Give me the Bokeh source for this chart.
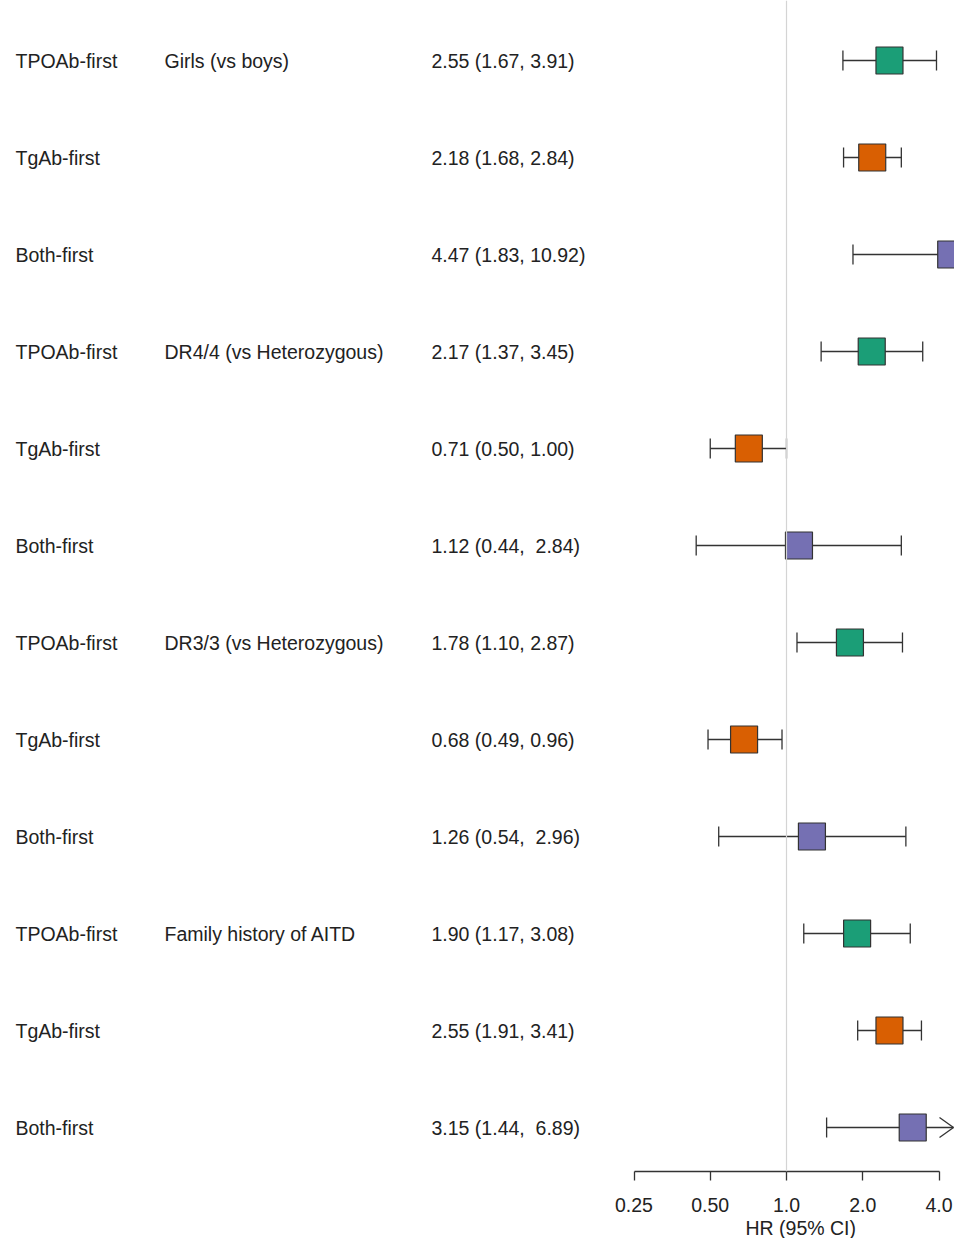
import math
from bokeh.plotting import figure
from bokeh.models import Range1d, FixedTicker, Span, ColumnDataSource, Title
from bokeh.core.properties import value
from bokeh.embed import file_html
from bokeh.resources import INLINE

# ---------------- data ----------------
groups = ["TPOAb-first", "TgAb-first", "Both-first"] * 4
covariates = ["Girls (vs boys)", "", "",
              "DR4/4 (vs Heterozygous)", "", "",
              "DR3/3 (vs Heterozygous)", "", "",
              "Family history of AITD", "", ""]
hr = [2.55, 2.18, 4.47, 2.17, 0.71, 1.12, 1.78, 0.68, 1.26, 1.90, 2.55, 3.15]
lo = [1.67, 1.68, 1.83, 1.37, 0.50, 0.44, 1.10, 0.49, 0.54, 1.17, 1.91, 1.44]
hi = [3.91, 2.84, 10.92, 3.45, 1.00, 2.84, 2.87, 0.96, 2.96, 3.08, 3.41, 6.89]
ci_labels = ["2.55 (1.67, 3.91)", "2.18 (1.68, 2.84)", "4.47 (1.83, 10.92)",
             "2.17 (1.37, 3.45)", "0.71 (0.50, 1.00)", "1.12 (0.44,  2.84)",
             "1.78 (1.10, 2.87)", "0.68 (0.49, 0.96)", "1.26 (0.54,  2.96)",
             "1.90 (1.17, 3.08)", "2.55 (1.91, 3.41)", "3.15 (1.44,  6.89)"]
group_colors = {"TPOAb-first": "#1B9E77", "TgAb-first": "#D95F02", "Both-first": "#7570B3"}
tick_values = [0.25, 0.5, 1.0, 2.0, 4.0]
tick_labels = ["0.25", "0.50", "1.0", "2.0", "4.0"]
x_title = "HR (95% CI)"

# ---------------- layout constants ----------------
FRAME_W, FRAME_H = 954, 1171
ROW_PX = 97.0
ROW0_PX = 60.0
PX_PER_DOUBLING = 76.25
X_ONE = 786.0            # frame px of HR = 1
def px_to_x(px):
    return 2 ** ((px - X_ONE) / PX_PER_DOUBLING)

x_start, x_end = px_to_x(0), px_to_x(FRAME_W)
clip = px_to_x(FRAME_W - 1)
col_group, col_cov, col_ci = px_to_x(15), px_to_x(164), px_to_x(431)
cap_h = 10 / ROW_PX
arrow_dx = 2 ** (14 / PX_PER_DOUBLING)
arrow_dy = 10 / ROW_PX

rows = list(range(len(hr)))
n = len(hr)
y_top = -ROW0_PX / ROW_PX
y_bottom = y_top + FRAME_H / ROW_PX

p = figure(frame_width=FRAME_W, frame_height=FRAME_H,
           x_axis_type="log", y_axis_location=None,
           x_range=Range1d(x_start, x_end),
           y_range=Range1d(start=y_bottom, end=y_top),
           output_backend="svg", toolbar_location=None,
           min_border=0, min_border_left=0, min_border_right=0,
           min_border_top=0, min_border_bottom=0)
p.outline_line_color = None
p.xgrid.visible = False
p.ygrid.visible = False
p.background_fill_color = "white"
p.border_fill_color = "white"

# reference line at HR = 1
p.add_layout(Span(location=1.0, dimension="height", line_color="#d4d4d4", line_width=1.2))

# text columns (non-breaking space keeps the double space of the original)
font = value("Liberation Sans")
ci_shown = [s.replace("  ", " \u00a0") for s in ci_labels]
src_txt = ColumnDataSource(dict(row=rows, grp=groups, cov=covariates, ci=ci_shown))
for xcol, fld in [(col_group, "grp"), (col_cov, "cov"), (col_ci, "ci")]:
    p.text(x=xcol, y="row", text=fld, source=src_txt, text_font=font,
           text_font_size="19.5px", text_color="#222222",
           text_baseline="middle", text_align="left")

# confidence intervals
hi_draw = [min(h, clip) for h in hi]
p.segment(x0=lo, y0=rows, x1=hi_draw, y1=rows, line_color="#333333", line_width=1.3)
# caps
p.segment(x0=lo, y0=[r - cap_h for r in rows], x1=lo, y1=[r + cap_h for r in rows],
          line_color="#333333", line_width=1.3)
cap_rows = [r for r, h in zip(rows, hi) if h <= clip]
cap_x = [h for h in hi if h <= clip]
p.segment(x0=cap_x, y0=[r - cap_h for r in cap_rows], x1=cap_x, y1=[r + cap_h for r in cap_rows],
          line_color="#333333", line_width=1.3)
# arrows for clipped intervals
arr_rows = [r for r, h in zip(rows, hi) if h > clip]
for sgn in (-1, 1):
    p.segment(x0=[clip / arrow_dx] * len(arr_rows), y0=[r + sgn * arrow_dy for r in arr_rows],
              x1=[clip] * len(arr_rows), y1=arr_rows, line_color="#333333", line_width=1.3)

# point estimates
p.scatter(x=hr, y=rows, marker="square", size=27,
          fill_color=[group_colors[g] for g in groups],
          line_color="#333333", line_width=1.2)

# x axis
ax = p.xaxis[0]
ax.ticker = FixedTicker(ticks=tick_values)
ax.major_label_overrides = {v: s for v, s in zip(tick_values, tick_labels)}
ax.bounds = (tick_values[0], tick_values[-1])
ax.minor_tick_line_color = None
ax.major_tick_in = 0
ax.major_tick_out = 9
ax.axis_line_color = "#333333"
ax.axis_line_width = 1.3
ax.major_tick_line_color = "#333333"
ax.major_tick_line_width = 1.3
ax.major_label_standoff = 17
ax.major_label_text_font = "Liberation Sans"
ax.major_label_text_font_size = "19.5px"
ax.major_label_text_color = "#222222"

# axis title under the tick range (as in the reference), not under the frame centre
p.add_layout(Title(text=x_title, align="left", offset=745, standoff=0,
                   text_font="Liberation Sans", text_font_size="19.5px",
                   text_font_style="normal", text_color="#222222"), "below")

open("out.html", "w").write(file_html(p, INLINE))
